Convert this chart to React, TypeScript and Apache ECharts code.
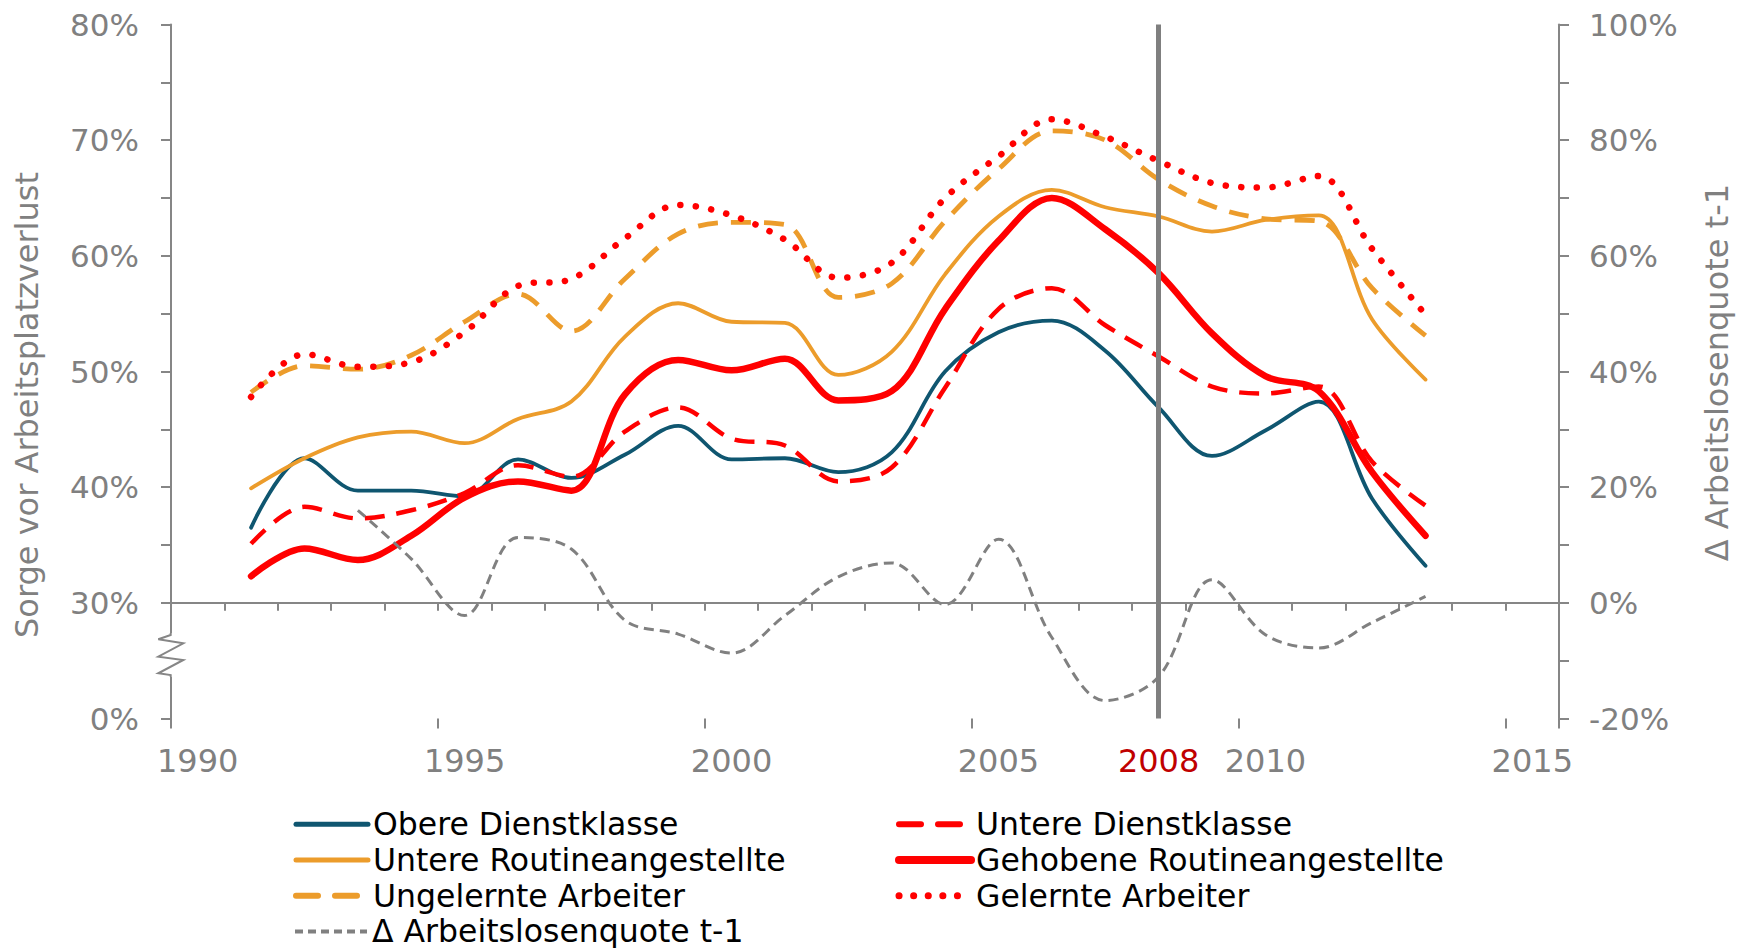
import React, { useEffect, useRef } from 'react';
import * as echarts from 'echarts';

const years = ['1990', '1991', '1992', '1993', '1994', '1995', '1996', '1997', '1998', '1999', '2000', '2001', '2002', '2003', '2004', '2005', '2006', '2007', '2008', '2009', '2010', '2011', '2012', '2013', '2014', '2015'];
const labeledYears = ['1990', '1995', '2000', '2005', '2008', '2010', '2015'];
const majorTickYears = ['1990', '1995', '2000', '2005', '2010', '2015'];

// left axis (Sorge vor Arbeitsplatzverlust, %), one value per year 1990..2015
const obereDienstklasse = [null, 36.5, 42.5, 39.7, 39.7, 39.2, 42.4, 40.8, 42.8, 45.3, 42.4, 42.5, 41.3, 43.0, 50.0, 53.4, 54.4, 51.8, 46.9, 42.7, 44.9, 47.4, 39.0, 33.2, null, null];
const untereDienstklasse = [null, 35.1, 38.3, 37.3, 38.0, 39.5, 41.9, 40.9, 44.8, 46.9, 44.2, 43.6, 40.5, 41.7, 48.6, 55.4, 57.2, 54.0, 51.3, 48.7, 48.1, 48.7, 42.2, 38.4, null, null];
const untereRoutine = [null, 39.9, 42.5, 44.3, 44.8, 43.8, 45.9, 47.4, 53.0, 55.9, 54.3, 54.2, 49.7, 51.7, 58.4, 63.4, 65.7, 64.2, 63.4, 62.1, 63.1, 63.5, 54.5, 49.3, null, null];
const gehobeneRoutine = [null, 32.3, 34.7, 33.7, 35.8, 39.1, 40.5, 39.7, 48.0, 51.0, 50.1, 51.1, 47.5, 48.3, 55.4, 61.3, 65.0, 62.3, 58.5, 53.3, 49.6, 48.3, 41.3, 35.8, null, null];
const ungelernteArbeiter = [null, 48.2, 50.5, 50.2, 51.4, 54.3, 56.7, 53.5, 58.0, 61.9, 62.9, 62.7, 56.4, 57.6, 63.0, 67.5, 70.8, 70.0, 66.6, 64.3, 63.2, 63.0, 57.2, 53.1, null, null];
const gelernteArbeiter = [null, 47.8, 51.5, 50.4, 50.8, 53.4, 57.4, 58.0, 61.5, 64.4, 63.5, 61.4, 58.1, 59.4, 65.0, 68.6, 71.8, 70.3, 68.2, 66.3, 65.9, 66.9, 60.6, 54.9, null, null];
// right axis (Δ Arbeitslosenquote t-1, %)
const deltaArbeitslosenquote = [null, null, null, 16.0, 7.6, -2.2, 11.3, 9.3, -3.0, -5.4, -8.7, -2.2, 4.5, 6.9, -0.3, 11.0, -6.0, -16.9, -12.8, 4.0, -5.5, -7.8, -3.4, 1.1, null, null];

const names = {
  obere: 'Obere Dienstklasse',
  untereD: 'Untere Dienstklasse',
  untereR: 'Untere Routineangestellte',
  gehobene: 'Gehobene Routineangestellte',
  ungelernte: 'Ungelernte Arbeiter',
  gelernte: 'Gelernte Arbeiter',
  delta: 'Δ Arbeitslosenquote t-1',
};

const TEAL = '#0F5670';
const ORANGE = '#EC9C2B';
const RED = '#FF0000';
const GRAY = '#808080';
const AXIS = '#868686';
const FONT = 'DejaVu Sans';

function lineSeries(name: string, data: (number | null)[], color: string, width: number, type: any, cap: string, yAxisIndex = 0) {
  return {
    name,
    type: 'line',
    data,
    xAxisIndex: 0,
    yAxisIndex,
    smooth: 0.35,
    symbol: 'none',
    showSymbol: false,
    connectNulls: false,
    silent: true,
    lineStyle: { color, width, type, cap, join: 'round' },
    itemStyle: { color },
    emphasis: { disabled: true },
  };
}

function legendBlock(items: any[], left: number, top: number) {
  return {
    data: items,
    orient: 'vertical',
    left,
    top,
    itemWidth: 72,
    itemHeight: 20,
    itemGap: 0,
    padding: 0,
    selectedMode: false,
    itemStyle: { opacity: 0 },
    textStyle: { fontSize: 31.5, fontFamily: FONT, color: '#000000', lineHeight: 35.7 },
  };
}

export default function App() {
  const ref = useRef<HTMLDivElement>(null);
  useEffect(() => {
    const chart = echarts.init(ref.current as HTMLDivElement, null, { renderer: 'svg' });
    const rowH = 35.7;
    const legTop = 806.5;
    const option: any = {
      animation: false,
      backgroundColor: '#ffffff',
      textStyle: { fontFamily: FONT },
      grid: { left: 171, top: 24.5, width: 1388, height: 694, containLabel: false },
      xAxis: [
        {
          type: 'category',
          data: years,
          boundaryGap: true,
          position: 'bottom',
          axisLine: { show: true, lineStyle: { color: AXIS, width: 2 } },
          axisTick: { show: true, length: 8, interval: 0, lineStyle: { color: AXIS, width: 2 } },
          axisLabel: {
            interval: (i: number, v: string) => labeledYears.includes(v),
            formatter: (v: string) => (v === '2008' ? '{r|2008}' : v),
            color: GRAY,
            fontSize: 32,
            fontFamily: FONT,
            margin: 26,
            rich: { r: { color: '#C00000', fontSize: 32, fontFamily: FONT } },
          },
          splitLine: { show: false },
        },
        {
          type: 'category',
          data: years,
          boundaryGap: true,
          position: 'bottom',
          offset: 0,
          axisLine: { show: false },
          axisTick: { show: true, length: 10, interval: (i: number, v: string) => majorTickYears.includes(v), lineStyle: { color: AXIS, width: 2 } },
          axisLabel: { show: false },
          splitLine: { show: false },
        },
      ],
      yAxis: [
        {
          type: 'value',
          min: 20,
          max: 80,
          interval: 5,
          position: 'left',
          axisLine: { show: true, lineStyle: { color: AXIS, width: 2 } },
          axisTick: { show: true, length: 10, lineStyle: { color: AXIS, width: 2 } },
          axisLabel: {
            formatter: (v: number) => (v === 20 ? '0%' : v % 10 === 0 ? v + '%' : ''),
            color: GRAY,
            fontSize: 31,
            fontFamily: FONT,
            margin: 32,
          },
          splitLine: { show: false },
        },
        {
          type: 'value',
          min: -20,
          max: 100,
          interval: 20,
          position: 'right',
          axisLine: { show: true, lineStyle: { color: AXIS, width: 2 } },
          axisTick: { show: true, length: 10, lineStyle: { color: AXIS, width: 2 } },
          minorTick: { show: true, splitNumber: 2, length: 10, lineStyle: { color: AXIS, width: 2 } },
          axisLabel: { formatter: (v: number) => v + '%', color: GRAY, fontSize: 31, fontFamily: FONT, margin: 30 },
          splitLine: { show: false },
          minorSplitLine: { show: false },
        },
      ],
      legend: [
        legendBlock(
          [
            { name: names.obere, lineStyle: { width: 5, type: 'solid', cap: 'round' } },
            { name: names.untereR, lineStyle: { width: 5, type: 'solid', cap: 'round' } },
            { name: names.ungelernte, lineStyle: { width: 6, type: [22, 17], cap: 'round' } },
          ],
          293,
          legTop
        ),
        legendBlock([{ name: names.delta, lineStyle: { width: 4, type: [8, 5], cap: 'butt' } }], 293, legTop + 3 * rowH),
        legendBlock(
          [
            { name: names.untereD, lineStyle: { width: 6, type: [22, 17], cap: 'round' } },
            { name: names.gehobene, lineStyle: { width: 8, type: 'solid', cap: 'round' } },
            { name: names.gelernte, lineStyle: { width: 7, type: [0.1, 14.5], cap: 'round' } },
          ],
          895,
          legTop
        ),
      ],
      series: [
        lineSeries(names.obere, obereDienstklasse, TEAL, 3.8, 'solid', 'round'),
        lineSeries(names.untereD, untereDienstklasse, RED, 4.5, [20, 12], 'butt'),
        lineSeries(names.untereR, untereRoutine, ORANGE, 3.8, 'solid', 'round'),
        lineSeries(names.gehobene, gehobeneRoutine, RED, 6.5, 'solid', 'round'),
        lineSeries(names.ungelernte, ungelernteArbeiter, ORANGE, 4.8, [20, 13], 'butt'),
        lineSeries(names.gelernte, gelernteArbeiter, RED, 6.5, [0.1, 15.5], 'round'),
        {
          ...lineSeries(names.delta, deltaArbeitslosenquote, GRAY, 3, [10, 6], 'butt', 1),
          markLine: {
            silent: true,
            symbol: ['none', 'none'],
            label: { show: false },
            emphasis: { disabled: true },
            data: [
              { yAxis: 0, lineStyle: { color: AXIS, width: 1.6, type: 'solid' } },
              { xAxis: '2008', lineStyle: { color: '#7F7F7F', width: 5, type: 'solid' } },
            ],
          },
        },
      ],
      graphic: [
        { type: 'rect', z: 100, shape: { x: 150, y: 633, width: 40, height: 44 }, style: { fill: '#ffffff' } },
        {
          type: 'polyline',
          z: 101,
          shape: { points: [[170.7, 633], [170.7, 635], [158.3, 639.3], [183.3, 643.3], [158.3, 656.7], [183.3, 660], [158.3, 673.3], [170.7, 675], [170.7, 677]] },
          style: { stroke: AXIS, lineWidth: 2, fill: null },
        },
        {
          type: 'text',
          x: 27,
          y: 405,
          rotation: Math.PI / 2,
          style: { text: 'Sorge vor Arbeitsplatzverlust', fontSize: 32, fontFamily: FONT, fill: GRAY, align: 'center', verticalAlign: 'middle' },
        },
        {
          type: 'text',
          x: 1717,
          y: 372.6,
          rotation: Math.PI / 2,
          style: { text: 'Δ Arbeitslosenquote t-1', fontSize: 32, fontFamily: FONT, fill: GRAY, align: 'center', verticalAlign: 'middle' },
        },
      ],
    };
    chart.setOption(option);
    return () => chart.dispose();
  }, []);
  return <div ref={ref} style={{ position: 'absolute', left: 0, top: 0, width: 1744, height: 948, background: '#ffffff' }} />;
}
